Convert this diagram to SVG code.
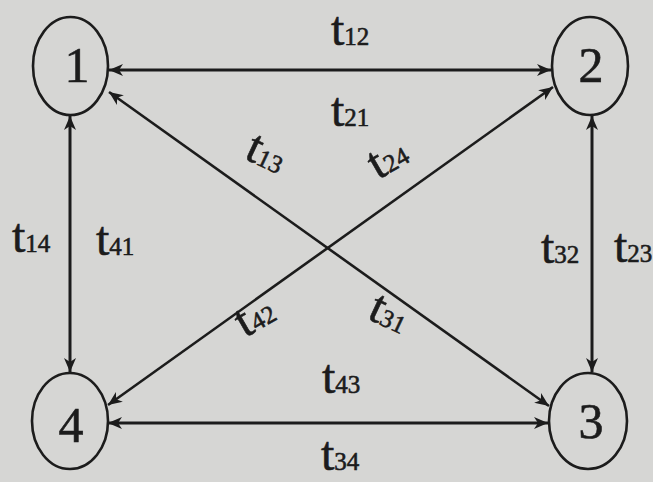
<svg xmlns="http://www.w3.org/2000/svg" width="653" height="482" viewBox="0 0 653 482">
<style>
.bg{fill:#d6d6d4}
.node{fill:none;stroke:#1c1c1c;stroke-width:2.6}
.num{font-family:"Liberation Serif","DejaVu Serif",serif;font-size:50px;fill:#1c1c1c;stroke:#1c1c1c;stroke-width:0.6;text-anchor:middle}
.lbl{font-family:"Liberation Serif","DejaVu Serif",serif;font-size:48px;fill:#1c1c1c;stroke:#1c1c1c;stroke-width:0.6}
.sub{font-size:25px}
.edge{stroke:#1c1c1c;stroke-width:3;fill:none;marker-start:url(#ah);marker-end:url(#ah)}
.diag{stroke-width:2.6}
</style>
<defs>
<marker id="ah" viewBox="0 0 14 12" refX="14" refY="6" markerWidth="14" markerHeight="12" markerUnits="userSpaceOnUse" orient="auto-start-reverse">
<path d="M0,0 L14,6 L0,12 L4,6 z" fill="#1c1c1c"/>
</marker>
</defs>
<rect class="bg" x="0" y="0" width="653" height="482"/>
<g id="connectors">
<line class="edge" x1="109" y1="70" x2="551" y2="70"/>
<line class="edge diag" x1="109" y1="92" x2="549" y2="406"/>
<line class="edge diag" x1="553" y1="87" x2="108" y2="405"/>
<line class="edge" x1="70" y1="116" x2="70" y2="372"/>
<line class="edge" x1="592" y1="116" x2="592" y2="372"/>
<line class="edge" x1="108" y1="423" x2="548" y2="423"/>
</g>
<g id="node1"><ellipse class="node" cx="70.5" cy="66" rx="37.5" ry="49"/><text class="num" x="77" y="82">1</text></g>
<g id="node2"><ellipse class="node" cx="590" cy="66" rx="38" ry="49"/><text class="num" x="591" y="82">2</text></g>
<g id="node3"><ellipse class="node" cx="588" cy="421" rx="39" ry="48"/><text class="num" x="591" y="438">3</text></g>
<g id="node4"><ellipse class="node" cx="70" cy="421" rx="38" ry="48"/><text class="num" x="71" y="442">4</text></g>
<g id="labels">
<text class="lbl" x="331" y="45">t<tspan class="sub">12</tspan></text>
<text class="lbl" x="331" y="126">t<tspan class="sub">21</tspan></text>
<text class="lbl" x="12" y="252">t<tspan class="sub">14</tspan></text>
<text class="lbl" x="96" y="255">t<tspan class="sub">41</tspan></text>
<text class="lbl" x="541" y="263">t<tspan class="sub">32</tspan></text>
<text class="lbl" x="614" y="262">t<tspan class="sub">23</tspan></text>
<text class="lbl" x="322" y="393">t<tspan class="sub">43</tspan></text>
<text class="lbl" x="321" y="470">t<tspan class="sub">34</tspan></text>
<text class="lbl" transform="translate(243,158) rotate(25)">t<tspan class="sub">13</tspan></text>
<text class="lbl" transform="translate(378,180) rotate(-30)">t<tspan class="sub">24</tspan></text>
<text class="lbl" transform="translate(245,338) rotate(-30)">t<tspan class="sub">42</tspan></text>
<text class="lbl" transform="translate(366,318) rotate(25)">t<tspan class="sub">31</tspan></text>
</g>
</svg>
